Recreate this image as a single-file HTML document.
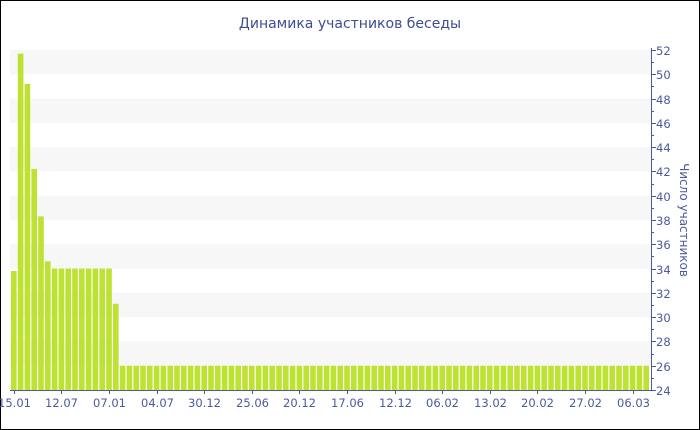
<!DOCTYPE html><html><head><style>body{margin:0}svg{display:block}text{font-family:"DejaVu Sans","Liberation Sans",sans-serif}</style></head><body>
<svg width="700" height="430" xmlns="http://www.w3.org/2000/svg">
<rect x="0.5" y="0.5" width="699" height="429" fill="#fff" stroke="#000"/>
<text x="350" y="28" text-anchor="middle" font-size="14" fill="#3c4d92">Динамика участников беседы</text>
<g fill="#f7f7f7" id="bands"></g>
<g fill="#bde232" id="bars"></g>
<line x1="10" y1="390.5" x2="651" y2="390.5" stroke="#4a5aa0"/>
<line x1="651.5" y1="48" x2="651.5" y2="391" stroke="#4a5aa0"/>
<g id="ticks" stroke="#4a5aa0"></g>
<g id="lab" font-size="11.5" fill="#4a5aa0"></g>
<text transform="translate(680,220) rotate(90)" text-anchor="middle" font-size="12" fill="#4a5aa0">Число участников</text>
<script>
var ns="http://www.w3.org/2000/svg";
function el(p,t,a,tx){var e=document.createElementNS(ns,t);for(var k in a)e.setAttribute(k,a[k]);if(tx)e.textContent=tx;document.getElementById(p).appendChild(e);}
function Y(v){return 390-(v-24)*12.143;}
for(var v=28;v<=52;v+=4){el("bands","rect",{x:10,y:Y(v),width:641,height:Y(v-2)-Y(v)});}
var vals=[33.8,51.7,49.2,42.2,38.3,34.6,34,34,34,34,34,34,34,34,34,31.1];
while(vals.length<94)vals.push(26);
var p=6.8;
for(var i=0;i<94;i++){var c=13.8+i*p;el("bars","rect",{x:c-2.8,y:Y(vals[i]),width:5.6,height:390-Y(vals[i])});}
for(var v=24;v<=52;v++){var y=Math.round(Y(v))+0.5;el("ticks","line",{x1:651,y1:y,x2:v%2?654:656,y2:y});if(v%2==0)el("lab","text",{x:656,y:y+4.5},""+v);}
var L=["15.01","12.07","07.01","04.07","30.12","25.06","20.12","17.06","12.12","06.02","13.02","20.02","27.02","06.03"];
for(var j=0;j<14;j++){var x=Math.round(13.8+j*7*p)+0.5;el("ticks","line",{x1:x,y1:390,x2:x,y2:394});el("lab","text",{x:x,y:407,"text-anchor":"middle"},L[j]);}
</script>
</svg></body></html>
